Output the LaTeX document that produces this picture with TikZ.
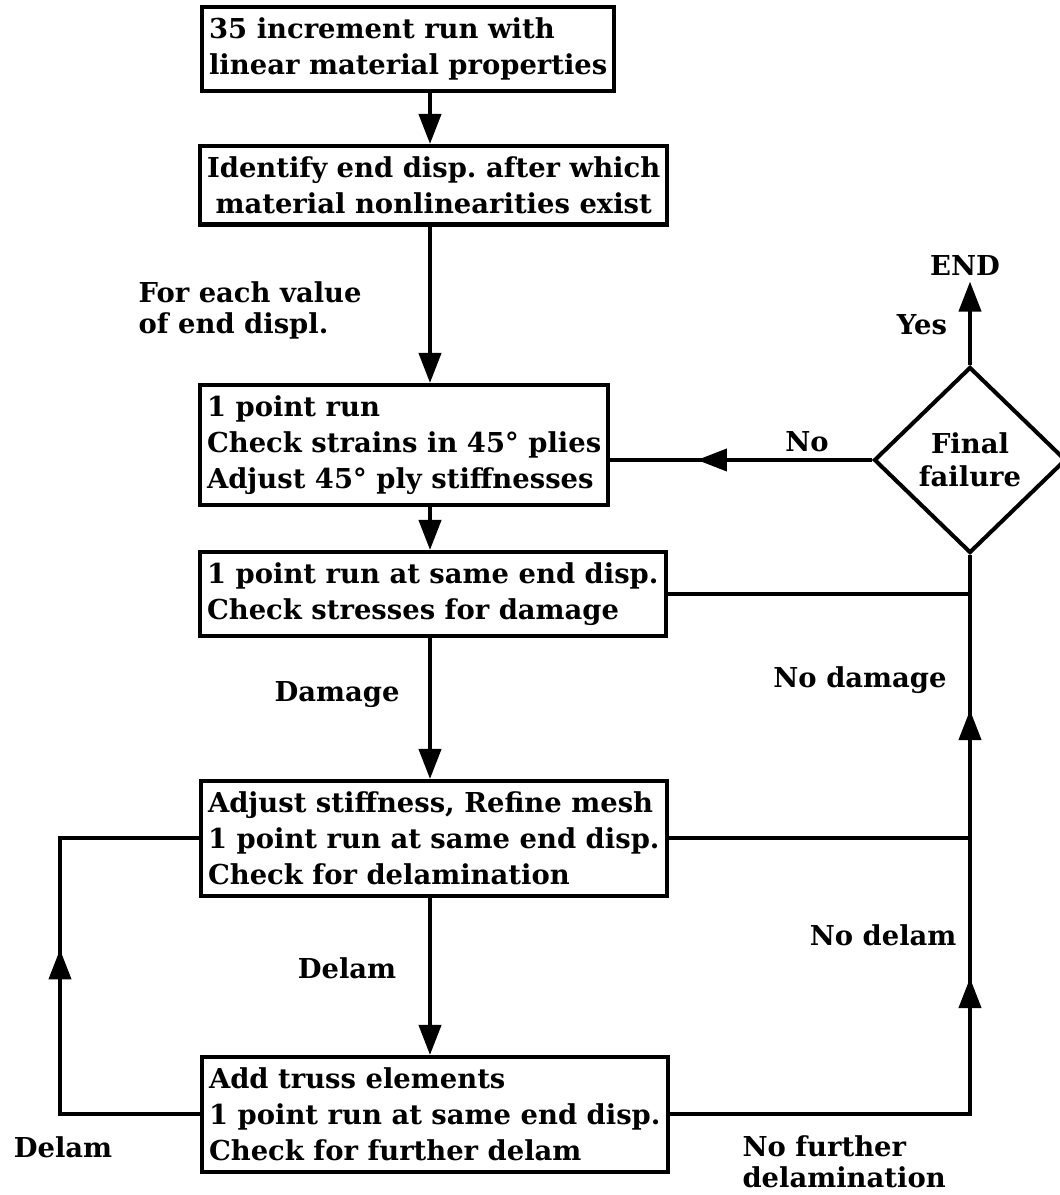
\documentclass[tikz,border=0pt]{standalone}
\usepackage{fontspec}
\setmainfont{DejaVu Serif}
\usetikzlibrary{shapes.geometric,arrows.meta,decorations.markings}

\begin{document}
\begin{tikzpicture}[line width=1.15pt, >={Triangle[length=3mm,width=2.2mm]},
  box/.style={draw, anchor=north west, align=left, inner xsep=2pt, inner ysep=3pt,
    font=\bfseries\fontsize{7.8}{10.3}\selectfont},
  lbl/.style={align=left, inner sep=1pt, font=\bfseries\fontsize{7.8}{8.8}\selectfont},
  midarrow/.style={postaction={decorate, decoration={markings,
    mark=at position #1 with {\arrow{Triangle[length=3mm,width=2.2mm]}}}}}]
  \useasboundingbox (0,0) rectangle (10.59,11.95);
  \coordinate (spine) at (4.30,0); \coordinate (trunk) at (9.70,0); \coordinate (loop) at (0.60,0);
  \node[box] (inc) at (2.00,11.90) {35 increment run with\\linear material properties};
  \node[box, align=center] (ident) at (1.98,10.51) {Identify end disp.\ after which\\material nonlinearities exist};
  \node[box] (strain) at (1.98,8.12) {1 point run\\Check strains in 45° plies\\Adjust 45° ply stiffnesses};
  \node[box] (stress) at (1.98,6.45) {1 point run at same end disp.\\Check stresses for damage};
  \node[box] (refine) at (1.99,4.16) {Adjust stiffness, Refine mesh\\1 point run at same end disp.\\Check for delamination};
  \node[box] (truss) at (2.00,1.40) {Add truss elements\\1 point run at same end disp.\\Check for further delam};
  \node[diamond, draw, minimum width=1.92cm, minimum height=1.86cm, inner sep=0pt, align=center,
    font=\bfseries\fontsize{7.8}{9.4}\selectfont] (fail) at (9.70,7.35) {Final\\failure};
  \node[lbl] (end) at (9.65,9.29) {END};
  \node[lbl] (yes) at (9.22,8.70) {Yes};
  \node[lbl] (no) at (8.07,7.53) {No};
  \node[lbl, anchor=west] (each) at (1.33,8.85) {For each value\\of end displ.};
  \node[lbl] (dmg) at (3.37,5.00) {Damage};
  \node[lbl] (dlm) at (3.47,2.27) {Delam};
  \node[lbl] (dlmloop) at (0.63,0.48) {Delam};
  \node[lbl] (nodmg) at (8.60,5.15) {No damage};
  \node[lbl, anchor=east] (nodlm) at (9.62,2.60) {No delam};
  \node[lbl, anchor=west] (nofurther) at (7.37,0.33) {No further\\delamination};
  \draw[->] (inc.south -| spine) -- (ident.north -| spine);
  \draw[->] (ident.south -| spine) -- (strain.north -| spine);
  \draw[->] (strain.south -| spine) -- (stress.north -| spine);
  \draw[->] (stress.south -| spine) -- (refine.north -| spine);
  \draw[->] (refine.south -| spine) -- (truss.north -| spine);
  \draw[->] (fail.north) -- (fail.north |- end.south);
  \draw[midarrow=1.75cm] (fail.west) -- (fail.west -| strain.east);
  \draw (stress.east) -- (stress.east -| trunk);
  \draw (refine.east) -- (refine.east -| trunk);
  \draw[midarrow=-1.55cm, midarrow=-4.23cm] (truss.east) -- (truss.east -| trunk) -- (fail.south);
  \draw[midarrow=-2.50cm] (truss.west) -- (truss.west -| loop) -- (refine.west -| loop) -- (refine.west);
\end{tikzpicture}
\end{document}
